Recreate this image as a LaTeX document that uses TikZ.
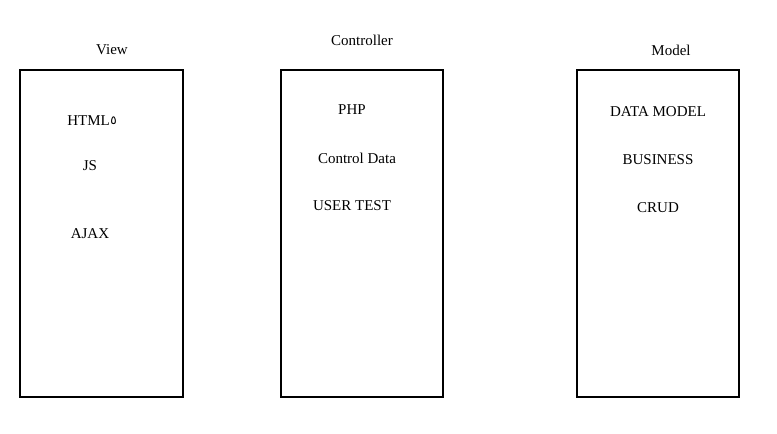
\documentclass[tikz,border=0pt]{standalone}
\usepackage{fontspec}
\setmainfont{Liberation Serif}
\newfontfamily\digfont{DejaVu Sans}
\begin{document}
\begin{tikzpicture}[x=1pt,y=-1pt,
  panel/.style={draw=black,line width=1.8pt,fill=white},
  lbl/.style={font=\fontsize{15}{17}\selectfont,inner sep=0pt}]
\useasboundingbox[fill=white] (0,0) rectangle (777,434);
\draw[panel] (20,70) rectangle (183,397);
\draw[panel] (281,70) rectangle (443,397);
\draw[panel] (577,70) rectangle (739,397);
\node[lbl] (view) at (112,50) {View};
\node[lbl] (ctrl) at (362,40) {Controller};
\node[lbl] (model) at (671,50) {Model};
\node[lbl] (html) at (92,121) {HTML\kern0.5pt\raisebox{1pt}{\digfont\fontsize{12}{12}\selectfont ٥}};
\node[lbl] (js) at (90,166) {JS};
\node[lbl] (ajax) at (90,234) {AJAX};
\node[lbl] (php) at (352,110) {PHP};
\node[lbl] (cdata) at (357,158) {Control Data};
\node[lbl] (utest) at (352,206) {USER TEST};
\node[lbl] (dm) at (658,112) {DATA MODEL};
\node[lbl] (bus) at (658,160) {BUSINESS};
\node[lbl] (crud) at (658,208) {CRUD};
\end{tikzpicture}
\end{document}
